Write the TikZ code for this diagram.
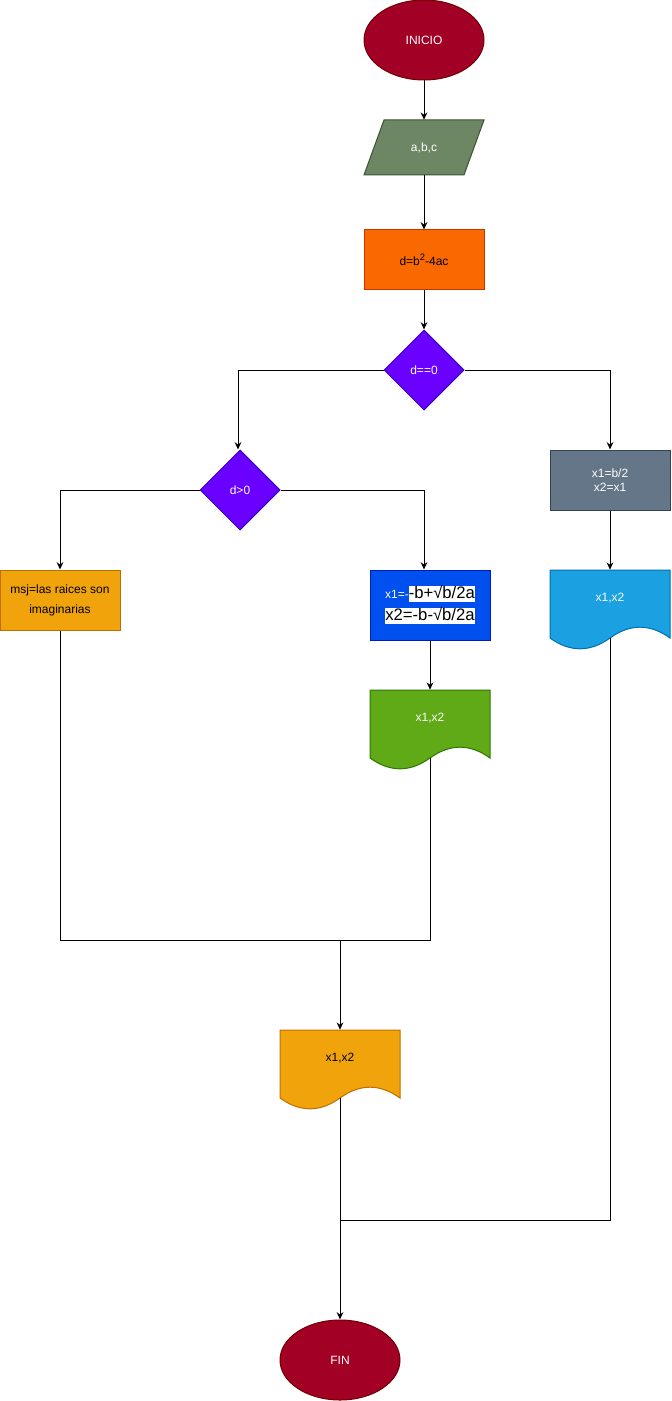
\documentclass[tikz,border=0pt]{standalone}
\usepackage{fontspec}
\setmainfont{Liberation Sans}
\usetikzlibrary{shapes.geometric,arrows.meta}

\definecolor{termfill}{HTML}{A20025}
\definecolor{termline}{HTML}{6F0000}
\definecolor{infill}{HTML}{6D8764}
\definecolor{inline}{HTML}{3A5431}
\definecolor{calcfill}{HTML}{FA6800}
\definecolor{calcline}{HTML}{C73500}
\definecolor{decfill}{HTML}{6A00FF}
\definecolor{decline}{HTML}{3700CC}
\definecolor{grayfill}{HTML}{647687}
\definecolor{grayline}{HTML}{314354}
\definecolor{solfill}{HTML}{0050EF}
\definecolor{solline}{HTML}{001DBC}
\definecolor{cyanfill}{HTML}{1BA1E2}
\definecolor{cyanline}{HTML}{006EAF}
\definecolor{greenfill}{HTML}{60A917}
\definecolor{greenline}{HTML}{2D7600}
\definecolor{amberfill}{HTML}{F0A30A}
\definecolor{amberline}{HTML}{BD7000}

% document (wavy bottom) outline, 120 x 80 px, given its top-left corner
\newcommand\docshape[4]{%
  \filldraw[fill=#3,draw=#4,line width=.75pt,shift={(#1,#2)}]
    (0,0) -- (120,0) -- (120,68)
    .. controls (100,53.6) and (80,53.6) .. (60,68)
    .. controls (40,82.4) and (20,82.4) .. (0,68) -- cycle;}

% white highlight behind a piece of text
\newcommand\hlbox[1]{{\setlength{\fboxsep}{0pt}\colorbox{white}{\rule[-2.6pt]{0pt}{10pt}\textcolor{black}{#1}}}}
% raised exponent
\newcommand\supnum[1]{\raisebox{3.6pt}{\fontsize{7}{8}\selectfont #1}}

\begin{document}
\begin{tikzpicture}[x=0.75pt,y=-0.75pt,
  every node/.style={font=\fontsize{9}{11}\selectfont, inner sep=0pt},
  term/.style={ellipse, draw=termline, fill=termfill, text=white,
    minimum width=90pt, minimum height=60pt, line width=.75pt},
  proc/.style={rectangle, minimum width=90pt, minimum height=45pt, line width=.75pt},
  dec/.style={diamond, aspect=1, draw=decline, fill=decfill, text=white,
    minimum width=60pt, minimum height=60pt, line width=.75pt},
  doctext/.style={rectangle, minimum width=90pt, minimum height=42pt},
  link/.style={line width=.75pt, draw=black},
  arr/.style={-{Stealth[length=5.5pt,width=5pt]}}
]
\useasboundingbox (0,0) rectangle (671,1401);

% start
\node[term] (ini) at (424,40) {INICIO};

% input a,b,c (parallelogram)
\filldraw[fill=infill,draw=inline,line width=.75pt]
  (384,120) -- (484,120) -- (464,175) -- (364,175) -- cycle;
\node[rectangle, minimum width=75pt, minimum height=41.25pt, text=white] (in) at (424,147.5) {a,b,c};

% discriminant
\node[proc, fill=calcfill, draw=calcline, text=black] (calc) at (424,260) {d=b\supnum{2}-4ac};

% decisions
\node[dec] (d1) at (424,370) {d==0};
\node[dec] (d2) at (240,490) {d>0};

% double root branch
\node[proc, fill=grayfill, draw=grayline, text=white, align=center] (dbl) at (610,480) {x1=b/2\\x2=x1};
\docshape{550}{570}{cyanfill}{cyanline}
\node[doctext, text=white] (out3) at (610,598) {x1,x2};
\coordinate (out3b) at (610,638);

% imaginary roots
\node[proc, fill=amberfill, draw=amberline, text=black, align=center,
  font=\fontsize{9}{15}\selectfont] (msj) at (60,600) {msj=las raices son\\imaginarias};

% two real roots
\node[proc, minimum height=52.5pt, fill=solfill, draw=solline, text=white, align=center,
  font=\fontsize{12.5}{16.5}\selectfont] (sol) at (430,605)
  {{\fontsize{9}{11}\selectfont x1=-}\hlbox{-b+√b/2a}\\\hlbox{x2=-b-√b/2a}};
\docshape{370}{690}{greenfill}{greenline}
\node[doctext, text=white] (out1) at (430,718) {x1,x2};
\coordinate (out1b) at (430,758);

% common output
\coordinate (j1) at (340,940);
\docshape{280}{1030}{amberfill}{amberline}
\node[doctext, text=black] (out2) at (340,1058) {x1,x2};
\coordinate (out2b) at (340,1098);
\coordinate (j2) at (340,1220);

% end
\node[term] (fin) at (340,1360) {FIN};

% connectors
\draw[link,arr] (ini) -- (in);
\draw[link,arr] (in) -- (calc);
\draw[link,arr] (calc) -- (d1);
\draw[link,arr] (d1.west) -| ([xshift=-1.5pt]d2.north);
\draw[link,arr] (d1.east) -| (dbl.north);
\draw[link,arr] (dbl.south) -- (out3.north);
\draw[link,arr] (d2.west) -| (msj.north);
\draw[link,arr] (d2.east) -| ([xshift=-4.5pt]sol.north);
\draw[link,arr] (sol.south) -- (out1.north);
\draw[link] (msj.south) |- (j1);
\draw[link] (out1b) |- (j1);
\draw[link,arr] (j1) -- (out2.north);
\draw[link] (out3b) |- (j2);
\draw[link,arr] (out2b) -- (fin.north);
\end{tikzpicture}
\end{document}
